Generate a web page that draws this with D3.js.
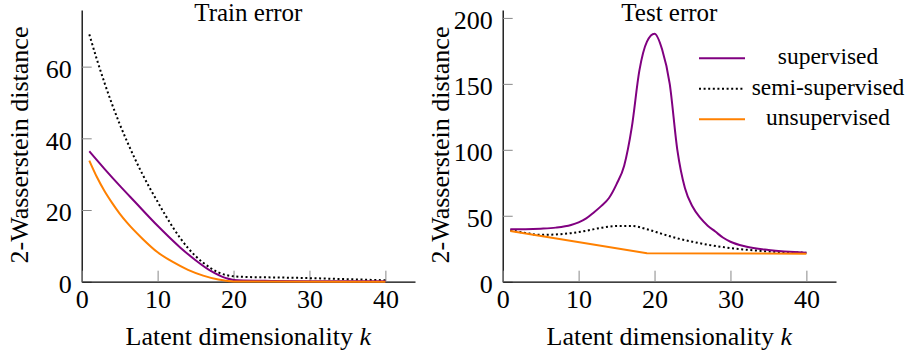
<!DOCTYPE html>
<html>
<head>
<meta charset="utf-8">
<script src="https://cdn.jsdelivr.net/npm/d3@7"></script>
</head>
<body style="margin:0">
<script>
// values (k = latent dimensionality)
const trainSupK = [1, 3, 5, 7, 10, 13, 15, 17, 19, 20, 25, 30, 35, 40];
const trainSup  = [36.4, 31.5, 26.8, 22.3, 15.6, 9.5, 6, 3, 1, 0.5, 0.2, 0.1, 0.1, 0.1];
const trainSemiK = [1, 2, 3, 4, 5, 6, 8, 10, 12, 14, 16, 18, 20, 22, 25, 30, 35, 40];
const trainSemi  = [69, 62, 55.5, 49.5, 44, 39, 30, 22.3, 15.2, 9.4, 5.3, 2.6, 1.5, 1.3, 1.2, 1.0, 0.7, 0.4];
const trainUnsK = [1, 2, 3, 4, 5, 6, 8, 10, 12, 14, 16, 18, 20, 40];
const trainUns  = [33.8, 29.2, 25.3, 22, 19, 16.4, 12, 8.2, 5.5, 3.3, 1.7, 0.6, 0.05, 0];

const testSupK = [1, 3, 5, 7, 9, 10, 11, 12, 13, 14, 15, 16, 17, 18, 19, 20, 21, 22, 23, 24, 25, 26, 27, 28, 29, 30, 32, 35, 40];
const testSup  = [39.7, 39.8, 40.2, 41, 43, 45, 48, 52.5, 57.5, 63.5, 74, 88, 117, 160, 182, 188, 176, 150, 100, 71, 57, 48.5, 42.5, 38, 33.5, 30.3, 26.7, 24, 22];
const testSemiK = [1, 3, 5, 7, 9, 11, 13, 15, 17, 19, 21, 23, 25, 27, 30, 33, 36, 40];
const testSemi  = [39, 37, 35.5, 35.8, 36.8, 38.6, 40.9, 42.2, 42.3, 39.8, 36.2, 32.9, 30.3, 28, 25.5, 23.8, 22.6, 22];
const testUnsK = [1, 19, 40];
const testUns  = [38.5, 21.6, 21.2];

const xTicks = [0, 10, 20, 30, 40];
const trainYTicks = [0, 20, 40, 60];
const testYTicks = [0, 50, 100, 150, 200];

const legendNames = ["supervised", "semi-supervised", "unsupervised"];

const purple = "#800080";
const orange = "#ff8000";

const svg = d3.select("body")
  .append("svg")
  .attr("width", 909)
  .attr("height", 356)
  .attr("font-family", "Times New Roman");

// set the face on each text element directly
function label(sel, size) {
  return sel
    .attr("font-family", "Times New Roman")
    .attr("font-size", size)
    .attr("fill", "#000");
}

function drawPanel(left, right, yMax, yTicks, title, series) {
  const x = d3.scaleLinear().domain([0, 43.9]).range([left, right]);
  const y = d3.scaleLinear().domain([0, yMax]).range([281.7, 10]);

  // y axis, ticks pointing inward
  const ya = svg.append("g")
    .attr("transform", `translate(${left},0)`)
    .call(d3.axisLeft(y).tickValues(yTicks).tickSize(-10).tickSizeOuter(0).tickPadding(10).tickFormat(d3.format("d")));
  ya.selectAll(".tick text").attr("dy", "0.42em");

  const xa = svg.append("g")
    .attr("transform", "translate(0,281.7)")
    .call(d3.axisBottom(x).tickValues(xTicks).tickSize(-11).tickSizeOuter(0).tickPadding(8).tickFormat(d3.format("d")));

  [ya, xa].forEach(a => {
    a.attr("font-family", "Times New Roman").attr("font-size", 26);
    a.select(".domain").attr("stroke", "#000").attr("stroke-width", 1.3);
    a.selectAll(".tick line").attr("stroke", "#888").attr("stroke-width", 1);
    label(a.selectAll(".tick text"), 26);
  });

  // title
  label(svg.append("text"), 25)
    .attr("x", (left + right) / 2)
    .attr("y", 21)
    .attr("text-anchor", "middle")
    .text(title);

  // x label
  const xl = label(svg.append("text"), 26)
    .attr("x", (left + right) / 2)
    .attr("y", 345)
    .attr("text-anchor", "middle");
  xl.append("tspan").text("Latent dimensionality ");
  xl.append("tspan").attr("font-style", "italic").text("k");

  // y label
  label(svg.append("text"), 26)
    .attr("transform", `translate(${left - 54},145) rotate(-90)`)
    .attr("text-anchor", "middle")
    .text("2-Wasserstein distance");

  series.forEach(s => {
    const line = d3.line()
      .x((d, i) => x(s.k[i]))
      .y(d => y(d))
      .curve(s.curve || d3.curveMonotoneX);
    svg.append("path")
      .datum(s.v)
      .attr("fill", "none")
      .attr("stroke", s.color)
      .attr("stroke-width", 2)
      .attr("stroke-dasharray", s.dash || null)
      .attr("d", line);
  });
}

drawPanel(81.7, 415, 75.8, trainYTicks, "Train error", [
  { k: trainSemiK, v: trainSemi, color: "#000", dash: "2 2.6" },
  { k: trainSupK, v: trainSup, color: purple },
  { k: trainUnsK, v: trainUns, color: orange }
]);

drawPanel(502.7, 836, 206, testYTicks, "Test error", [
  { k: testSemiK, v: testSemi, color: "#000", dash: "2 2.6" },
  { k: testSupK, v: testSup, color: purple },
  { k: testUnsK, v: testUns, color: orange, curve: d3.curveLinear }
]);

// legend
const legendStyles = [
  { color: purple, dash: null },
  { color: "#000", dash: "2 2.6" },
  { color: orange, dash: null }
];
const legendY = d3.scalePoint().domain(legendNames).range([58.3, 119.3]);
legendNames.forEach((name, i) => {
  svg.append("line")
    .attr("x1", 699).attr("x2", 745)
    .attr("y1", legendY(name)).attr("y2", legendY(name))
    .attr("stroke", legendStyles[i].color)
    .attr("stroke-width", 2)
    .attr("stroke-dasharray", legendStyles[i].dash);
  label(svg.append("text"), 23.5)
    .attr("x", 828)
    .attr("y", legendY(name) + 6)
    .attr("text-anchor", "middle")
    .text(name);
});
</script>
</body>
</html>
